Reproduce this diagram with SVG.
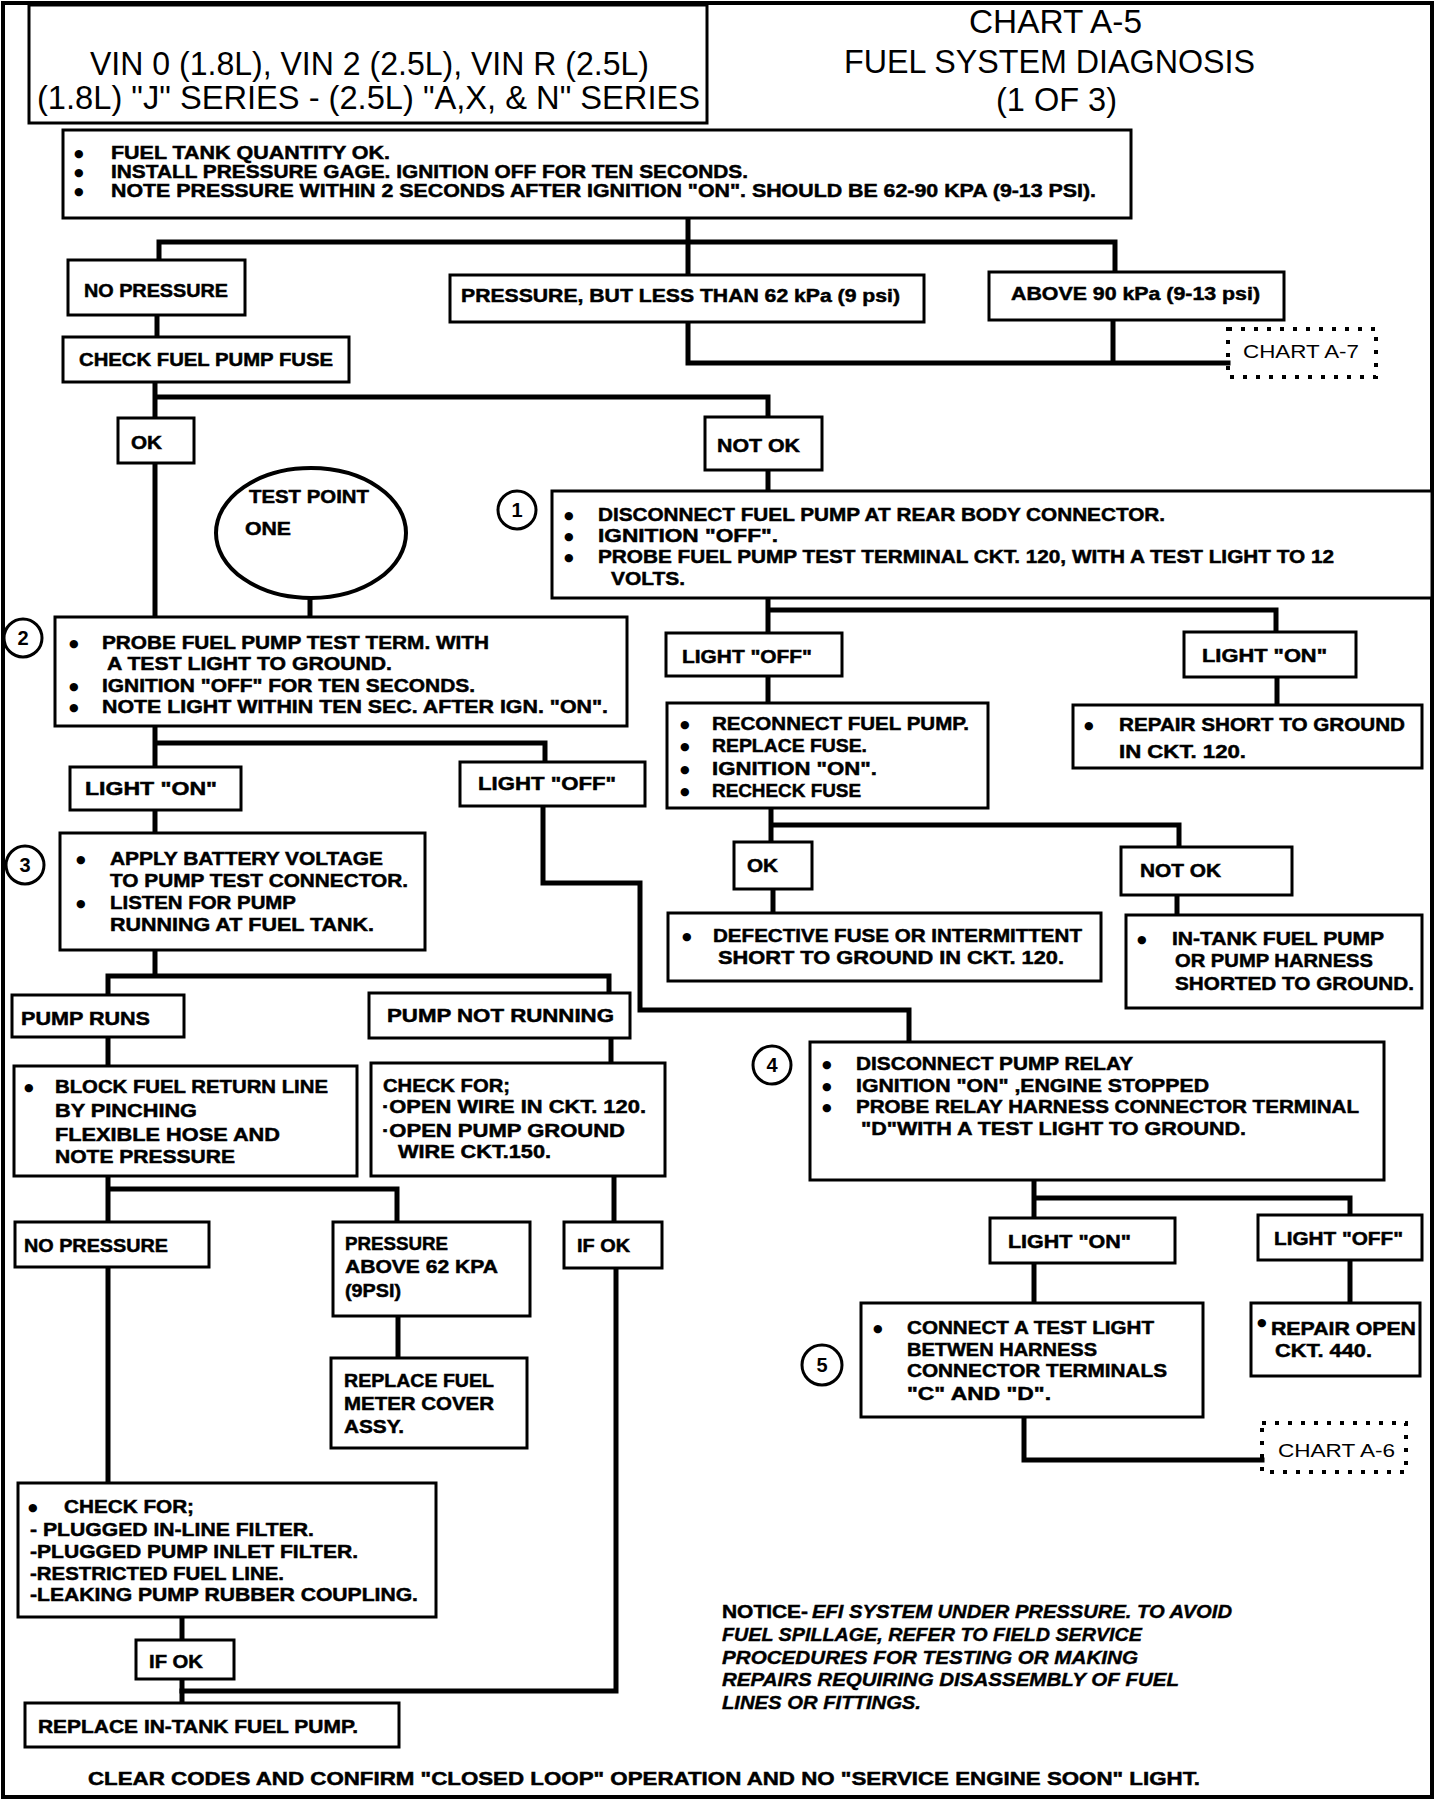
<svg xmlns="http://www.w3.org/2000/svg" width="1440" height="1802" viewBox="0 0 1440 1802">
<style>
.bx{fill:#fff;stroke:#000;stroke-width:3}
.cn{fill:none;stroke:#000;stroke-width:5;stroke-linecap:square;stroke-linejoin:miter}
.dt{fill:none;stroke:#000;stroke-width:4;stroke-dasharray:4 9}
.t{font-family:"Liberation Sans",Arial,sans-serif;font-weight:bold;font-size:19px;fill:#000;stroke:#000;stroke-width:0.5}
.u{font-family:"DejaVu Sans",sans-serif;font-size:11px;fill:#000}
.h{font-family:"Liberation Sans",Arial,sans-serif;font-size:33px;fill:#000}
.i{font-family:"Liberation Sans",Arial,sans-serif;font-weight:bold;font-style:italic;font-size:18px;fill:#000;stroke:#000;stroke-width:0.4}
.ch{font-family:"Liberation Sans",Arial,sans-serif;font-size:19px;fill:#000}
.num{font-family:"Liberation Sans",Arial,sans-serif;font-weight:bold;font-size:20px;fill:#000;text-anchor:middle}
.ring{fill:#fff;stroke:#000;stroke-width:3}
</style>
<rect x="0" y="0" width="1440" height="1802" fill="#fff"/>
<rect x="3" y="3" width="1429" height="1794" fill="none" stroke="#000" stroke-width="4"/>

<g id="connectors">
<path class="cn" d="M688,218 V242 M159,242 H1115 M159,242 V260 M688,242 V275 M1115,242 V272"/>
<path class="cn" d="M157,315 V337"/>
<path class="cn" d="M155,382 V397 H768 V417 M155,397 V418"/>
<path class="cn" d="M688,322 V363 H1228 M1113,320 V363"/>
<path class="cn" d="M155,463 V617"/>
<path class="cn" d="M310,598 V617"/>
<path class="cn" d="M768,470 V491"/>
<path class="cn" d="M768,598 V633 M768,610 H1276 V632"/>
<path class="cn" d="M768,676 V703"/>
<path class="cn" d="M1277,677 V705"/>
<path class="cn" d="M771,808 V842 M771,825 H1179 V847"/>
<path class="cn" d="M773,889 V913"/>
<path class="cn" d="M1177,895 V915"/>
<path class="cn" d="M155,726 V767 M155,743 H545 V762"/>
<path class="cn" d="M155,810 V833"/>
<path class="cn" d="M543,806 V883 H640 V1010 H909 V1042"/>
<path class="cn" d="M155,950 V976 M108,976 H609 V993 M108,976 V995"/>
<path class="cn" d="M108,1037 V1066"/>
<path class="cn" d="M611,1038 V1063"/>
<path class="cn" d="M108,1176 V1222 M108,1189 H397 V1222"/>
<path class="cn" d="M614,1176 V1222"/>
<path class="cn" d="M108,1267 V1483"/>
<path class="cn" d="M398,1316 V1358"/>
<path class="cn" d="M616,1268 V1691 H182"/>
<path class="cn" d="M182,1617 V1640"/>
<path class="cn" d="M182,1679 V1703"/>
<path class="cn" d="M1034,1180 V1218 M1034,1198 H1350 V1215"/>
<path class="cn" d="M1034,1263 V1303"/>
<path class="cn" d="M1350,1260 V1303"/>
<path class="cn" d="M1024,1417 V1460 H1262"/>
</g>

<g id="title">
<rect class="bx" x="29" y="5" width="678" height="118"/>
<text class="h" x="90" y="75" textLength="559" lengthAdjust="spacingAndGlyphs">VIN 0 (1.8L), VIN 2 (2.5L), VIN R (2.5L)</text>
<text class="h" x="37" y="109" textLength="663" lengthAdjust="spacingAndGlyphs">(1.8L) "J" SERIES - (2.5L) "A,X, &amp; N" SERIES</text>
</g>
<g id="chart-title">
<text class="h" x="969" y="33" textLength="173" lengthAdjust="spacingAndGlyphs">CHART A-5</text>
<text class="h" x="844" y="73" textLength="411" lengthAdjust="spacingAndGlyphs">FUEL SYSTEM DIAGNOSIS</text>
<text class="h" x="996" y="111" textLength="121" lengthAdjust="spacingAndGlyphs">(1 OF 3)</text>
</g>

<g id="start">
<rect class="bx" x="63" y="130" width="1068" height="88"/>
<text class="u" x="74" y="157">●</text><text class="u" x="74" y="176">●</text><text class="u" x="74" y="195">●</text>
<text class="t" x="111" y="159" textLength="279" lengthAdjust="spacingAndGlyphs">FUEL TANK QUANTITY OK.</text>
<text class="t" x="111" y="178" textLength="637" lengthAdjust="spacingAndGlyphs">INSTALL PRESSURE GAGE.  IGNITION OFF FOR TEN SECONDS.</text>
<text class="t" x="111" y="197" textLength="985" lengthAdjust="spacingAndGlyphs">NOTE PRESSURE WITHIN 2 SECONDS AFTER IGNITION "ON".  SHOULD BE 62-90 KPA (9-13 PSI).</text>
</g>

<g id="no-pressure"><rect class="bx" x="68" y="260" width="177" height="55"/>
<text class="t" x="84" y="297" textLength="144" lengthAdjust="spacingAndGlyphs">NO PRESSURE</text></g>
<g id="pressure-low"><rect class="bx" x="450" y="275" width="474" height="47"/>
<text class="t" x="461" y="302" textLength="439" lengthAdjust="spacingAndGlyphs">PRESSURE, BUT  LESS THAN 62 kPa (9 psi)</text></g>
<g id="pressure-high"><rect class="bx" x="989" y="272" width="295" height="48"/>
<text class="t" x="1011" y="300" textLength="249" lengthAdjust="spacingAndGlyphs">ABOVE 90 kPa (9-13 psi)</text></g>
<g id="chart-a7"><rect class="dt" x="1228" y="329" width="148" height="48"/>
<text class="ch" x="1243" y="358" textLength="116" lengthAdjust="spacingAndGlyphs">CHART A-7</text></g>
<g id="check-fuse"><rect class="bx" x="63" y="337" width="286" height="45"/>
<text class="t" x="79" y="366" textLength="254" lengthAdjust="spacingAndGlyphs">CHECK FUEL PUMP FUSE</text></g>
<g id="ok1"><rect class="bx" x="118" y="418" width="76" height="45"/>
<text class="t" x="131" y="449" textLength="31" lengthAdjust="spacingAndGlyphs">OK</text></g>
<g id="notok1"><rect class="bx" x="705" y="417" width="117" height="53"/>
<text class="t" x="717" y="452" textLength="83" lengthAdjust="spacingAndGlyphs">NOT OK</text></g>

<g id="test-point">
<ellipse cx="311" cy="533" rx="95" ry="65" fill="#fff" stroke="#000" stroke-width="4"/>
<text class="t" x="249" y="503" textLength="120" lengthAdjust="spacingAndGlyphs">TEST POINT</text>
<text class="t" x="245" y="535" textLength="46" lengthAdjust="spacingAndGlyphs">ONE</text>
</g>

<g id="step1">
<circle class="ring" cx="517" cy="510" r="19"/><text class="num" x="517" y="517">1</text>
<rect class="bx" x="552" y="491" width="880" height="107"/>
<text class="u" x="564" y="519">●</text><text class="u" x="564" y="540">●</text><text class="u" x="564" y="561">●</text>
<text class="t" x="598" y="521" textLength="567" lengthAdjust="spacingAndGlyphs">DISCONNECT FUEL PUMP AT REAR BODY CONNECTOR.</text>
<text class="t" x="598" y="542" textLength="180" lengthAdjust="spacingAndGlyphs">IGNITION "OFF".</text>
<text class="t" x="598" y="563" textLength="736" lengthAdjust="spacingAndGlyphs">PROBE FUEL PUMP TEST TERMINAL CKT. 120, WITH A TEST LIGHT TO 12</text>
<text class="t" x="611" y="585" textLength="74" lengthAdjust="spacingAndGlyphs">VOLTS.</text>
</g>

<g id="step2">
<circle class="ring" cx="23" cy="638" r="19"/><text class="num" x="23" y="645">2</text>
<rect class="bx" x="55" y="617" width="572" height="109"/>
<text class="u" x="69" y="647">●</text><text class="u" x="69" y="690">●</text><text class="u" x="69" y="711">●</text>
<text class="t" x="102" y="649" font-size="20" textLength="387" lengthAdjust="spacingAndGlyphs">PROBE FUEL PUMP TEST TERM. WITH</text>
<text class="t" x="107" y="670" font-size="20" textLength="285" lengthAdjust="spacingAndGlyphs">A TEST LIGHT TO GROUND.</text>
<text class="t" x="102" y="692" font-size="20" textLength="373" lengthAdjust="spacingAndGlyphs">IGNITION "OFF" FOR TEN SECONDS.</text>
<text class="t" x="102" y="713" font-size="20" textLength="506" lengthAdjust="spacingAndGlyphs">NOTE LIGHT WITHIN TEN SEC. AFTER IGN. "ON".</text>
</g>

<g id="light-off-a"><rect class="bx" x="666" y="633" width="176" height="43"/>
<text class="t" x="682" y="663" textLength="130" lengthAdjust="spacingAndGlyphs">LIGHT "OFF"</text></g>
<g id="light-on-a"><rect class="bx" x="1184" y="632" width="172" height="45"/>
<text class="t" x="1202" y="662" textLength="125" lengthAdjust="spacingAndGlyphs">LIGHT "ON"</text></g>
<g id="reconnect"><rect class="bx" x="667" y="703" width="321" height="105"/>
<text class="u" x="680" y="728">●</text><text class="u" x="680" y="750">●</text><text class="u" x="680" y="773">●</text><text class="u" x="680" y="795">●</text>
<text class="t" x="712" y="730" textLength="257" lengthAdjust="spacingAndGlyphs">RECONNECT FUEL PUMP.</text>
<text class="t" x="712" y="752" textLength="155" lengthAdjust="spacingAndGlyphs">REPLACE FUSE.</text>
<text class="t" x="712" y="775" textLength="165" lengthAdjust="spacingAndGlyphs">IGNITION "ON".</text>
<text class="t" x="712" y="797" textLength="149" lengthAdjust="spacingAndGlyphs">RECHECK FUSE</text></g>
<g id="repair-short"><rect class="bx" x="1073" y="705" width="349" height="63"/>
<text class="u" x="1084" y="729">●</text>
<text class="t" x="1119" y="731" textLength="286" lengthAdjust="spacingAndGlyphs">REPAIR SHORT TO GROUND</text>
<text class="t" x="1119" y="758" textLength="127" lengthAdjust="spacingAndGlyphs">IN CKT. 120.</text></g>
<g id="ok2"><rect class="bx" x="734" y="842" width="78" height="47"/>
<text class="t" x="747" y="872" textLength="31" lengthAdjust="spacingAndGlyphs">OK</text></g>
<g id="notok2"><rect class="bx" x="1121" y="847" width="171" height="48"/>
<text class="t" x="1140" y="877" textLength="81" lengthAdjust="spacingAndGlyphs">NOT OK</text></g>
<g id="defective"><rect class="bx" x="668" y="913" width="433" height="68"/>
<text class="u" x="682" y="940">●</text>
<text class="t" x="713" y="942" textLength="369" lengthAdjust="spacingAndGlyphs">DEFECTIVE FUSE OR INTERMITTENT</text>
<text class="t" x="718" y="964" textLength="346" lengthAdjust="spacingAndGlyphs">SHORT TO GROUND IN CKT. 120.</text></g>
<g id="in-tank"><rect class="bx" x="1126" y="915" width="296" height="93"/>
<text class="u" x="1137" y="943">●</text>
<text class="t" x="1172" y="945" textLength="212" lengthAdjust="spacingAndGlyphs">IN-TANK FUEL PUMP</text>
<text class="t" x="1175" y="967" textLength="198" lengthAdjust="spacingAndGlyphs">OR PUMP HARNESS</text>
<text class="t" x="1175" y="990" textLength="239" lengthAdjust="spacingAndGlyphs">SHORTED TO GROUND.</text></g>

<g id="light-on-b"><rect class="bx" x="70" y="767" width="171" height="43"/>
<text class="t" x="85" y="795" textLength="132" lengthAdjust="spacingAndGlyphs">LIGHT "ON"</text></g>
<g id="light-off-b"><rect class="bx" x="460" y="762" width="185" height="44"/>
<text class="t" x="478" y="790" textLength="138" lengthAdjust="spacingAndGlyphs">LIGHT "OFF"</text></g>

<g id="step3">
<circle class="ring" cx="25" cy="865" r="19"/><text class="num" x="25" y="872">3</text>
<rect class="bx" x="60" y="833" width="365" height="117"/>
<text class="u" x="76" y="863">●</text><text class="u" x="76" y="907">●</text>
<text class="t" x="110" y="865" font-size="20" textLength="273" lengthAdjust="spacingAndGlyphs">APPLY BATTERY VOLTAGE</text>
<text class="t" x="110" y="887" font-size="20" textLength="298" lengthAdjust="spacingAndGlyphs">TO PUMP TEST CONNECTOR.</text>
<text class="t" x="110" y="909" font-size="20" textLength="186" lengthAdjust="spacingAndGlyphs">LISTEN FOR PUMP</text>
<text class="t" x="110" y="931" font-size="20" textLength="264" lengthAdjust="spacingAndGlyphs">RUNNING AT FUEL TANK.</text>
</g>

<g id="pump-runs"><rect class="bx" x="12" y="995" width="172" height="42"/>
<text class="t" x="21" y="1025" textLength="129" lengthAdjust="spacingAndGlyphs">PUMP RUNS</text></g>
<g id="pump-not-running"><rect class="bx" x="369" y="993" width="261" height="45"/>
<text class="t" x="387" y="1022" textLength="227" lengthAdjust="spacingAndGlyphs">PUMP NOT  RUNNING</text></g>
<g id="block-line"><rect class="bx" x="14" y="1066" width="343" height="110"/>
<text class="u" x="24" y="1091">●</text>
<text class="t" x="55" y="1093" font-size="20" textLength="273" lengthAdjust="spacingAndGlyphs">BLOCK FUEL RETURN LINE</text>
<text class="t" x="55" y="1117" font-size="20" textLength="142" lengthAdjust="spacingAndGlyphs">BY PINCHING</text>
<text class="t" x="55" y="1141" font-size="20" textLength="225" lengthAdjust="spacingAndGlyphs">FLEXIBLE  HOSE  AND</text>
<text class="t" x="55" y="1163" font-size="20" textLength="180" lengthAdjust="spacingAndGlyphs">NOTE  PRESSURE</text></g>
<g id="check-open"><rect class="bx" x="371" y="1063" width="294" height="113"/>
<text class="t" x="383" y="1092" font-size="20" textLength="127" lengthAdjust="spacingAndGlyphs">CHECK FOR;</text>
<text class="t" x="382" y="1113" font-size="20" textLength="264" lengthAdjust="spacingAndGlyphs">·OPEN WIRE IN CKT. 120.</text>
<text class="t" x="382" y="1137" font-size="20" textLength="243" lengthAdjust="spacingAndGlyphs">·OPEN PUMP GROUND</text>
<text class="t" x="398" y="1158" font-size="20" textLength="153" lengthAdjust="spacingAndGlyphs">WIRE CKT.150.</text></g>

<g id="step4">
<circle class="ring" cx="772" cy="1065" r="19"/><text class="num" x="772" y="1072">4</text>
<rect class="bx" x="810" y="1042" width="574" height="138"/>
<text class="u" x="822" y="1068">●</text><text class="u" x="822" y="1090">●</text><text class="u" x="822" y="1111">●</text>
<text class="t" x="856" y="1070" textLength="277" lengthAdjust="spacingAndGlyphs">DISCONNECT PUMP RELAY</text>
<text class="t" x="856" y="1092" textLength="353" lengthAdjust="spacingAndGlyphs">IGNITION "ON" ,ENGINE STOPPED</text>
<text class="t" x="856" y="1113" textLength="503" lengthAdjust="spacingAndGlyphs">PROBE RELAY HARNESS CONNECTOR TERMINAL</text>
<text class="t" x="861" y="1135" textLength="385" lengthAdjust="spacingAndGlyphs">"D"WITH A TEST LIGHT TO GROUND.</text>
</g>

<g id="no-pressure-2"><rect class="bx" x="15" y="1222" width="194" height="45"/>
<text class="t" x="24" y="1252" textLength="144" lengthAdjust="spacingAndGlyphs">NO PRESSURE</text></g>
<g id="pressure-above"><rect class="bx" x="333" y="1222" width="197" height="94"/>
<text class="t" x="345" y="1250" textLength="103" lengthAdjust="spacingAndGlyphs">PRESSURE</text>
<text class="t" x="345" y="1273" textLength="153" lengthAdjust="spacingAndGlyphs">ABOVE 62 KPA</text>
<text class="t" x="345" y="1297" textLength="56" lengthAdjust="spacingAndGlyphs">(9PSI)</text></g>
<g id="if-ok-1"><rect class="bx" x="564" y="1222" width="98" height="46"/>
<text class="t" x="577" y="1252" textLength="53" lengthAdjust="spacingAndGlyphs">IF OK</text></g>
<g id="replace-meter"><rect class="bx" x="331" y="1358" width="196" height="90"/>
<text class="t" x="344" y="1387" textLength="150" lengthAdjust="spacingAndGlyphs">REPLACE FUEL</text>
<text class="t" x="344" y="1410" textLength="150" lengthAdjust="spacingAndGlyphs">METER COVER</text>
<text class="t" x="344" y="1433" textLength="60" lengthAdjust="spacingAndGlyphs">ASSY.</text></g>

<g id="light-on-c"><rect class="bx" x="990" y="1218" width="185" height="45"/>
<text class="t" x="1008" y="1248" textLength="123" lengthAdjust="spacingAndGlyphs">LIGHT "ON"</text></g>
<g id="light-off-c"><rect class="bx" x="1258" y="1215" width="164" height="45"/>
<text class="t" x="1274" y="1245" textLength="129" lengthAdjust="spacingAndGlyphs">LIGHT "OFF"</text></g>
<g id="step5">
<circle class="ring" cx="822" cy="1365" r="20"/><text class="num" x="822" y="1372">5</text>
<rect class="bx" x="861" y="1303" width="342" height="114"/>
<text class="u" x="873" y="1332">●</text>
<text class="t" x="907" y="1334" textLength="247" lengthAdjust="spacingAndGlyphs">CONNECT A TEST LIGHT</text>
<text class="t" x="907" y="1356" textLength="190" lengthAdjust="spacingAndGlyphs">BETWEN HARNESS</text>
<text class="t" x="907" y="1377" textLength="260" lengthAdjust="spacingAndGlyphs">CONNECTOR TERMINALS</text>
<text class="t" x="907" y="1400" textLength="144" lengthAdjust="spacingAndGlyphs">"C" AND "D".</text>
</g>
<g id="repair-open"><rect class="bx" x="1251" y="1303" width="169" height="73"/>
<text class="u" x="1257" y="1326" font-size="8">●</text>
<text class="t" x="1271" y="1335" textLength="145" lengthAdjust="spacingAndGlyphs">REPAIR OPEN</text>
<text class="t" x="1275" y="1357" textLength="97" lengthAdjust="spacingAndGlyphs">CKT. 440.</text></g>
<g id="chart-a6"><rect class="dt" x="1262" y="1423" width="144" height="49"/>
<text class="ch" x="1278" y="1457" textLength="117" lengthAdjust="spacingAndGlyphs">CHART A-6</text></g>

<g id="check-filters"><rect class="bx" x="18" y="1483" width="418" height="134"/>
<text class="u" x="28" y="1511">●</text>
<text class="t" x="64" y="1513" font-size="20" textLength="130" lengthAdjust="spacingAndGlyphs">CHECK FOR;</text>
<text class="t" x="30" y="1536" font-size="20" textLength="284" lengthAdjust="spacingAndGlyphs">- PLUGGED IN-LINE FILTER.</text>
<text class="t" x="30" y="1558" font-size="20" textLength="328" lengthAdjust="spacingAndGlyphs">-PLUGGED PUMP INLET FILTER.</text>
<text class="t" x="30" y="1580" font-size="20" textLength="254" lengthAdjust="spacingAndGlyphs">-RESTRICTED FUEL LINE.</text>
<text class="t" x="30" y="1601" font-size="20" textLength="388" lengthAdjust="spacingAndGlyphs">-LEAKING PUMP RUBBER COUPLING.</text></g>
<g id="if-ok-2"><rect class="bx" x="136" y="1640" width="98" height="39"/>
<text class="t" x="149" y="1668" textLength="54" lengthAdjust="spacingAndGlyphs">IF OK</text></g>
<g id="replace-pump"><rect class="bx" x="25" y="1703" width="374" height="44"/>
<text class="t" x="38" y="1733" textLength="320" lengthAdjust="spacingAndGlyphs">REPLACE IN-TANK FUEL PUMP.</text></g>

<g id="notice">
<text class="t" x="722" y="1618" font-size="18" textLength="86" lengthAdjust="spacingAndGlyphs">NOTICE-</text>
<text class="i" x="812" y="1618" textLength="420" lengthAdjust="spacingAndGlyphs">EFI SYSTEM UNDER PRESSURE. TO AVOID</text>
<text class="i" x="722" y="1641" textLength="420" lengthAdjust="spacingAndGlyphs">FUEL SPILLAGE, REFER TO FIELD SERVICE</text>
<text class="i" x="722" y="1664" textLength="416" lengthAdjust="spacingAndGlyphs">PROCEDURES FOR TESTING OR MAKING</text>
<text class="i" x="722" y="1686" textLength="457" lengthAdjust="spacingAndGlyphs">REPAIRS REQUIRING DISASSEMBLY OF FUEL</text>
<text class="i" x="722" y="1709" textLength="199" lengthAdjust="spacingAndGlyphs">LINES OR FITTINGS.</text>
</g>
<g id="footer">
<text class="t" x="88" y="1785" font-size="20" textLength="1112" lengthAdjust="spacingAndGlyphs">CLEAR CODES AND CONFIRM "CLOSED LOOP" OPERATION AND NO "SERVICE ENGINE SOON" LIGHT.</text>
</g>
</svg>
